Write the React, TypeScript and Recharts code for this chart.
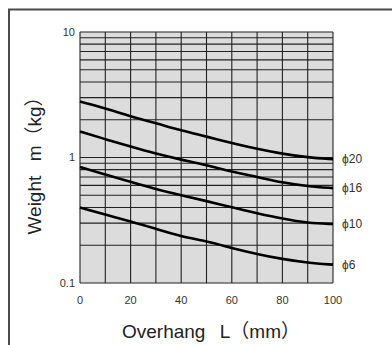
import React from 'react';
import { LineChart, Line, XAxis, YAxis, CartesianGrid, LabelList } from 'recharts';

// overhang L (mm) and weight m (kg)
const overhang = [0, 10, 20, 30, 40, 50, 60, 70, 80, 90, 100];
const phi20 = [2.79, 2.47, 2.12, 1.88, 1.64, 1.47, 1.3, 1.17, 1.07, 1.0, 0.97];
const phi16 = [1.61, 1.4, 1.22, 1.07, 0.96, 0.87, 0.77, 0.7, 0.63, 0.59, 0.57];
const phi10 = [0.84, 0.73, 0.64, 0.56, 0.5, 0.45, 0.4, 0.36, 0.325, 0.3, 0.295];
const phi6 = [0.4, 0.35, 0.31, 0.27, 0.235, 0.215, 0.19, 0.17, 0.155, 0.145, 0.14];

const seriesKeys = ['phi20', 'phi16', 'phi10', 'phi6'];
const seriesNames = ['ϕ20', 'ϕ16', 'ϕ10', 'ϕ6'];

const xTicks = [0, 10, 20, 30, 40, 50, 60, 70, 80, 90, 100];
const xLabelTicks = [0, 20, 40, 60, 80, 100];
const yTicks = [0.1, 0.2, 0.3, 0.4, 0.5, 0.6, 0.7, 0.8, 0.9, 1, 2, 3, 4, 5, 6, 7, 8, 9, 10];
const yLabelTicks = [0.1, 1, 10];

const data = overhang.map((L, i) => ({
    L,
    phi20: phi20[i],
    phi16: phi16[i],
    phi10: phi10[i],
    phi6: phi6[i],
}));

const FONT = '"Liberation Sans", Arial, "Noto Sans CJK JP", sans-serif';
const TEXT = '#333';
const GAP = '\u00a0\u2009\u00a0';

const EndLabel = (name: string) => (props: any) => {
    const { x, y, index } = props;
    if (index !== data.length - 1) return null;
    return (
        <text x={x + 9} y={y + 4} fontSize={12} fill={TEXT} fontFamily={FONT}>
            {name}
        </text>
    );
};

const App: React.FC = () => {
    return (
        <div style={{ position: 'absolute', left: 0, top: 0, width: 392, height: 345, overflow: 'hidden', background: '#fff', fontFamily: FONT }}>
            <LineChart width={392} height={345} data={data} margin={{ top: 32, right: 59, left: 50, bottom: 32 }}>
                <CartesianGrid stroke="#222" strokeWidth={1.1} fill="#dcdcdc" fillOpacity={1} />
                <XAxis
                    dataKey="L"
                    type="number"
                    domain={[0, 100]}
                    ticks={xTicks}
                    interval={0}
                    height={30}
                    axisLine={false}
                    tickLine={false}
                    tickSize={6}
                    tickMargin={7}
                    tickFormatter={(v: number) => (xLabelTicks.includes(v) ? String(v) : '')}
                    tick={{ fontSize: 11, fill: TEXT, fontFamily: FONT }}
                />
                <YAxis
                    scale="log"
                    domain={[0.1, 10]}
                    allowDataOverflow
                    ticks={yTicks}
                    interval={0}
                    width={30}
                    axisLine={false}
                    tickLine={false}
                    tickSize={3}
                    tickMargin={2}
                    tickFormatter={(v: number) => (yLabelTicks.includes(v) ? String(v) : '')}
                    tick={{ fontSize: 11, fill: TEXT, fontFamily: FONT }}
                />
                {seriesKeys.map((k, i) => (
                    <Line
                        key={k}
                        dataKey={k}
                        type="basis"
                        stroke="#000"
                        strokeWidth={2.6}
                        dot={false}
                        isAnimationActive={false}
                    >
                        <LabelList dataKey={k} content={EndLabel(seriesNames[i])} />
                    </Line>
                ))}
            </LineChart>
            <svg width={392} height={345} style={{ position: 'absolute', left: 0, top: 0, pointerEvents: 'none' }}>
                <rect x={9} y={9.5} width={400} height={400} fill="none" stroke="#4a4a4a" strokeWidth={2} />
                <text x={211} y={338} textAnchor="middle" fontSize={19} fill="#222" fontFamily={FONT}>
                    {`Overhang${GAP}L（mm）`}
                </text>
                <text transform="translate(40.5,161) rotate(-90)" textAnchor="middle" fontSize={19} fill="#222" fontFamily={FONT}>
                    {`Weight${GAP}m（kg）`}
                </text>
            </svg>
        </div>
    );
};

export default App;
